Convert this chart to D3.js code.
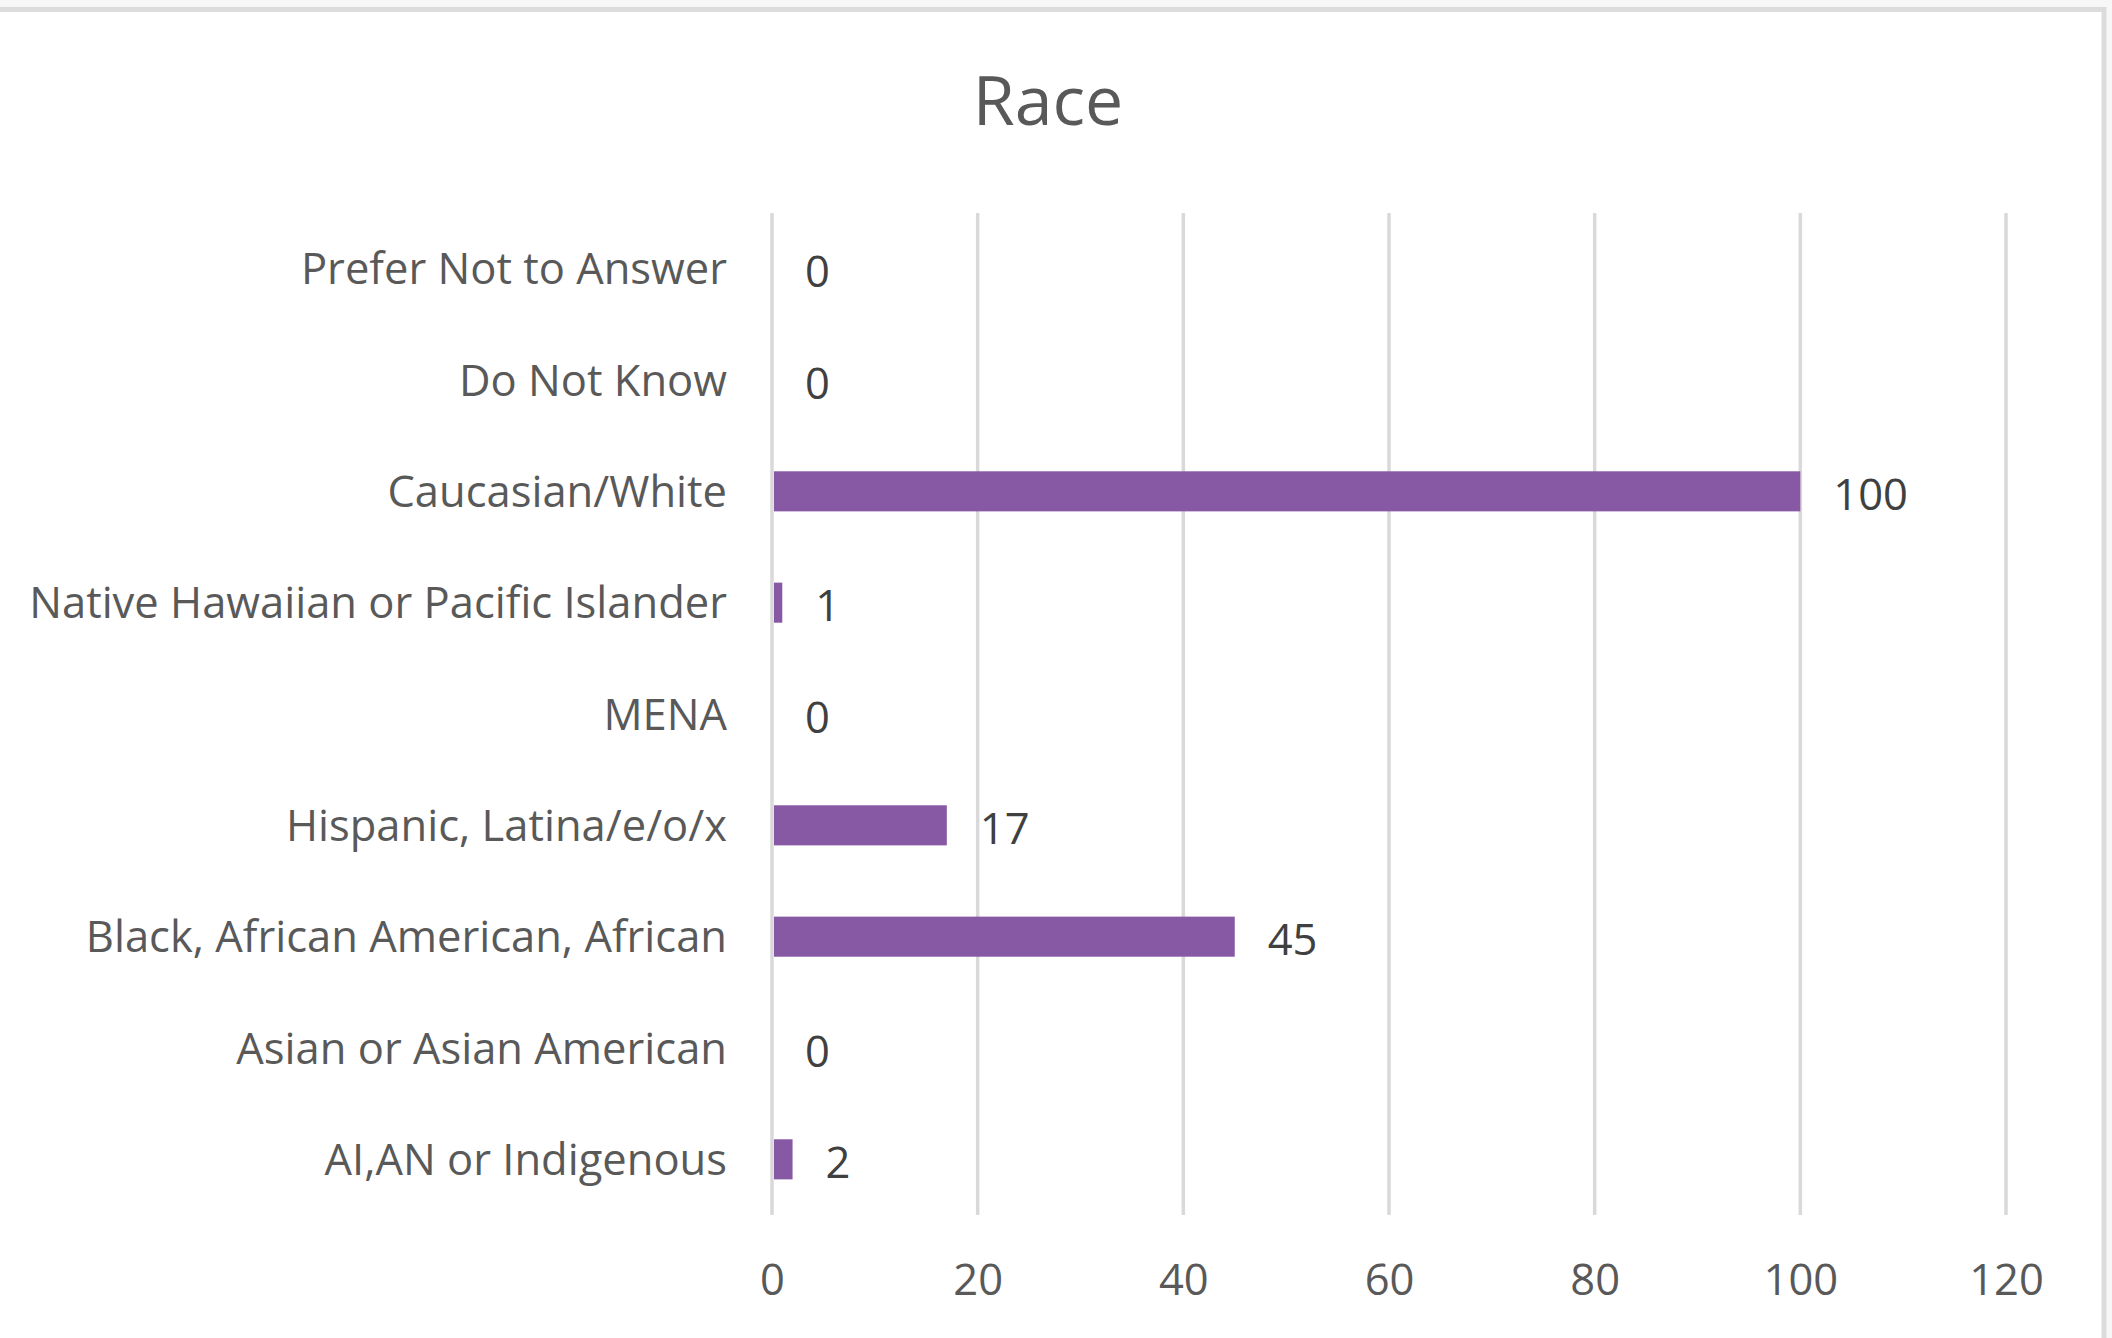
<!DOCTYPE html>
<html>
<head>
<meta charset="utf-8">
<script src="https://cdn.jsdelivr.net/npm/d3@7"></script>
<style>
  html, body { margin: 0; padding: 0; background: #f7f7f7; }
  svg { display: block; }
</style>
</head>
<body>
<div id="chart-container"></div>
<script>
// Race breakdown, horizontal bar chart

const categories = [
    "Prefer Not to Answer",
    "Do Not Know",
    "Caucasian/White",
    "Native Hawaiian or Pacific Islander",
    "MENA",
    "Hispanic, Latina/e/o/x",
    "Black, African American, African",
    "Asian or Asian American",
    "AI,AN or Indigenous"
];
const counts = [0, 0, 100, 1, 0, 17, 45, 0, 2];
const xTicks = [0, 20, 40, 60, 80, 100, 120];
const title = "Race";

const width = 2112;
const height = 1338;
const margin = { top: 213, right: 106, bottom: 123, left: 772 };
const font = "'Open Sans', 'Noto Sans', sans-serif";
const labelSize = 43.5;

const svg = d3.select("#chart-container")
    .append("svg")
    .attr("width", width)
    .attr("height", height);

// chart area with its border (cut off on the left and bottom)
svg.append("rect")
    .attr("x", -10)
    .attr("y", 9.5)
    .attr("width", 2104 + 10)
    .attr("height", height)
    .attr("fill", "#ffffff")
    .attr("stroke", "#dcdcdc")
    .attr("stroke-width", 5);

const x = d3.scaleLinear()
    .domain([0, 120])
    .range([margin.left, width - margin.right]);

const y = d3.scaleBand()
    .domain(categories)
    .range([margin.top, height - margin.bottom])
    .paddingInner(0.64)
    .paddingOuter(0.32);

// title
svg.append("text")
    .attr("x", 1048)
    .attr("y", 125)
    .attr("text-anchor", "middle")
    .attr("font-family", font)
    .attr("font-size", 68)
    .attr("fill", "#595959")
    .text(title);

// vertical gridlines
svg.append("g")
    .selectAll("line")
    .data(xTicks)
    .enter()
    .append("line")
    .attr("x1", d => x(d))
    .attr("x2", d => x(d))
    .attr("y1", margin.top)
    .attr("y2", height - margin.bottom)
    .attr("stroke", "#d9d9d9")
    .attr("stroke-width", 3.5);

// x axis tick labels
const xAxis = svg.append("g")
    .attr("transform", `translate(0,${height - margin.bottom})`)
    .call(d3.axisBottom(x).tickValues(xTicks).tickSize(0).tickPadding(0));
xAxis.select(".domain").remove();
xAxis.selectAll("text")
    .attr("y", 80)
    .attr("dy", 0)
    .attr("font-family", font)
    .attr("font-size", labelSize)
    .attr("fill", "#595959");

// category labels
const yAxis = svg.append("g")
    .attr("transform", `translate(${margin.left},0)`)
    .call(d3.axisLeft(y).tickSize(0).tickPadding(45));
yAxis.select(".domain").remove();
yAxis.selectAll("text")
    .attr("dy", "0.36em")
    .attr("font-family", font)
    .attr("font-size", labelSize)
    .attr("fill", "#595959");

const data = categories.map((c, i) => ({ cat: c, value: counts[i] }));

// bars
svg.append("g")
    .selectAll("rect")
    .data(data)
    .enter()
    .append("rect")
    .attr("x", x(0) + 2)
    .attr("y", d => y(d.cat))
    .attr("width", d => Math.max(0, x(d.value) - x(0) - 2))
    .attr("height", y.bandwidth())
    .attr("fill", "#8759a4");

// value labels
svg.append("g")
    .selectAll("text")
    .data(data)
    .enter()
    .append("text")
    .attr("x", d => x(d.value) + 33)
    .attr("y", d => y(d.cat) + y.bandwidth() / 2 + 3)
    .attr("dy", "0.36em")
    .attr("font-family", font)
    .attr("font-size", labelSize)
    .attr("fill", "#404040")
    .text(d => d.value);
</script>
</body>
</html>
